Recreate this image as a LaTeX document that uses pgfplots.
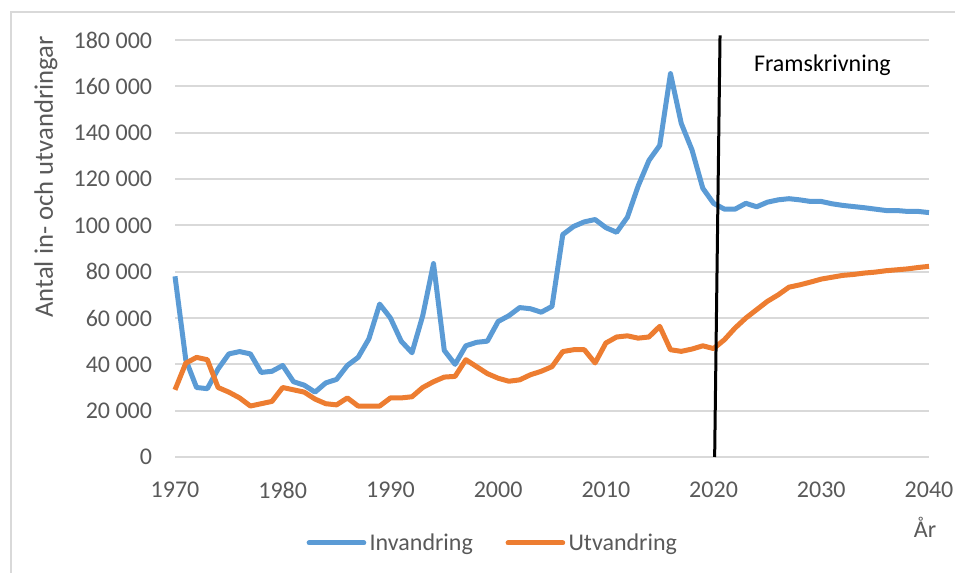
\documentclass[border=0pt]{standalone}
\usepackage{pgfplots}
\usepackage{pgfplotstable}
\pgfplotsset{compat=1.18}
\usepackage{fontspec}
\setmainfont{Carlito}
\definecolor{cblue}{HTML}{5B9BD5}
\definecolor{corange}{HTML}{ED7D31}
\definecolor{gridgray}{HTML}{D9D9D9}
\definecolor{txtgray}{HTML}{595959}

\pgfplotstableread{
year inv utv
1970 78000 29000
1971 42000 40500
1972 30000 43000
1973 29500 42000
1974 38000 30000
1975 44500 28000
1976 45500 25500
1977 44500 22000
1978 36500 23000
1979 37000 24000
1980 39500 30000
1981 32500 29000
1982 31000 28000
1983 28000 25000
1984 32000 23000
1985 33500 22500
1986 39500 25500
1987 43000 22000
1988 51000 22000
1989 66000 22000
1990 60000 25500
1991 50000 25500
1992 45000 26000
1993 61000 30000
1994 83500 32500
1995 46000 34500
1996 40000 34800
1997 48000 42000
1998 49500 39000
1999 50000 36000
2000 58500 34000
2001 61000 32700
2002 64500 33300
2003 64000 35500
2004 62500 37000
2005 65000 39000
2006 96000 45500
2007 99500 46300
2008 101500 46300
2009 102500 40600
2010 99000 49200
2011 97000 51800
2012 103500 52300
2013 117000 51300
2014 128000 51800
2015 134500 56400
2016 165500 46300
2017 144000 45600
2018 132500 46600
2019 116000 48000
2020 109500 46800
2021 107000 50600
2022 107000 55700
2023 109500 60000
2024 108000 63600
2025 110000 67200
2026 111000 70000
2027 111500 73300
2028 111000 74300
2029 110300 75500
2030 110300 76800
2031 109300 77600
2032 108600 78400
2033 108100 78800
2034 107600 79400
2035 107000 79800
2036 106400 80400
2037 106400 80800
2038 106000 81200
2039 106000 81800
2040 105500 82300
}\datatable

\begin{document}
\begin{tikzpicture}
\useasboundingbox (0,0) rectangle (716.25bp,429.75bp);
\draw[gridgray, line width=1.5bp] (8.25bp,0) -- (8.25bp,420.75bp) -- (716.25bp,420.75bp);
\begin{axis}[
  at={(131.25bp,87bp)}, anchor=south west,
  scale only axis,
  width=565.5bp, height=312.75bp,
  xmin=1970, xmax=2040, ymin=0, ymax=180000,
  xtick={1970,1980,...,2040},
  ytick={0,20000,...,180000},
  scaled y ticks=false,
  axis line style={draw=none},
  major tick length=0pt,
  ymajorgrids,
  grid style={color=gridgray, line width=1.5bp},
  clip=false,
  every tick label/.append style={font=\fontsize{18bp}{21bp}\selectfont, text=txtgray},
  yticklabel={\pgfmathprintnumber[assume math mode=true, fixed, 1000 sep={\ }]{\tick}},
  xticklabel={\pgfmathprintnumber[assume math mode=true, fixed, 1000 sep={}]{\tick}},
  yticklabel style={anchor=east, inner sep=0pt, xshift=-17bp},
  xticklabel style={anchor=north, inner sep=0pt, yshift=-18.75bp},
  legend style={draw=none, fill=none, at={(0.4224,-0.2062)}, anchor=center,
    legend columns=2, font=\fontsize{18bp}{21bp}\selectfont, text=txtgray,
    /tikz/every even column/.append style={column sep=22bp},
    nodes={inner sep=2.5bp}},
  legend cell align=left,
  legend image code/.code={\draw[#1, line cap=round] (0bp,0bp) -- (41bp,0bp);},
]
\addplot[cblue, line width=3.75bp, line join=round] table[x=year, y=inv] {\datatable};
\addlegendentry{Invandring}
\addplot[corange, line width=3.75bp, line join=round] table[x=year, y=utv] {\datatable};
\addlegendentry{Utvandring}
\addplot[black, line width=2.25bp, forget plot] coordinates {(2020.6,182000) (2020.1,0)};
\node[font=\fontsize{18bp}{21bp}\selectfont, text=black] at (axis cs:2030.1,169000) {Framskrivning};
\end{axis}
\node[font=\fontsize{20bp}{23bp}\selectfont, text=txtgray, rotate=90] at (34.5bp,297bp) {Antal in- och utvandringar};
\node[font=\fontsize{18bp}{21bp}\selectfont, text=txtgray] at (693.75bp,34.5bp) {År};
\end{tikzpicture}
\end{document}
